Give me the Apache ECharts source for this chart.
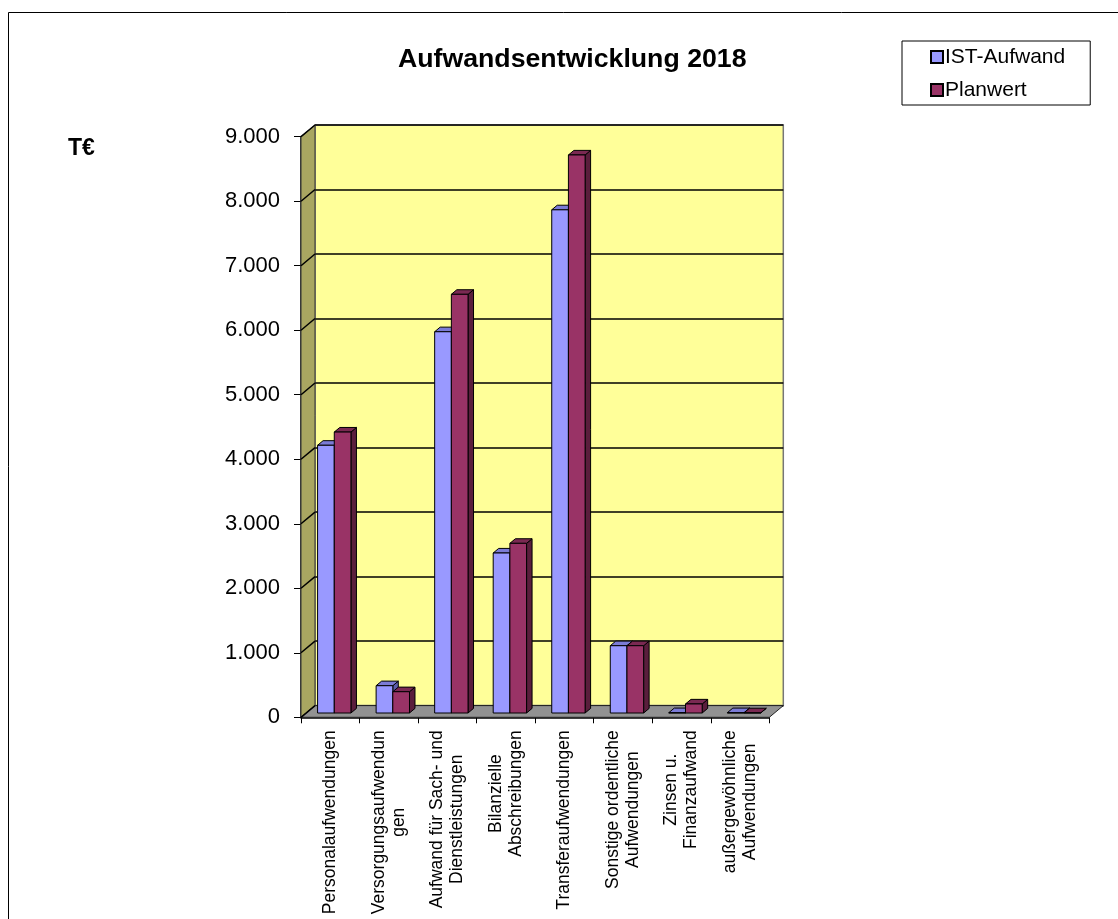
<!DOCTYPE html>
<html>
<head>
<meta charset="utf-8">
<script src="https://cdn.jsdelivr.net/npm/echarts@6/dist/echarts.min.js"></script>
<style>
  html, body { margin: 0; padding: 0; background: #fff; }
  #chart { width: 1118px; height: 919px; }
</style>
</head>
<body>
<div id="chart"></div>
<script>
"use strict";

var categories = [
  'Personalaufwendungen',
  'Versorgungsaufwendun\ngen',
  'Aufwand für Sach- und\nDienstleistungen',
  'Bilanzielle\nAbschreibungen',
  'Transferaufwendungen',
  'Sonstige ordentliche\nAufwendungen',
  'Zinsen u.\nFinanzaufwand',
  'außergewöhnliche\nAufwendungen'
];
var istAufwand = [4150, 423, 5910, 2480, 7800, 1043, 5, 5];
var planwert   = [4355, 330, 6490, 2630, 8650, 1043, 140, 3];
var yTicks = [0, 1000, 2000, 3000, 4000, 5000, 6000, 7000, 8000, 9000];

var FONT = 'Arial, "Liberation Sans", sans-serif';
// Tiefe der Wand (schräg nach hinten oben)
var WALL_DX = 14, WALL_DY = -11.7;
// Ebene der Säulen und deren Tiefe
var PLANE_DX = 4, PLANE_DY = -4.3;
var BAR_DX = 5.5, BAR_DY = -4.6;

function fmt(v) {
  return String(v).replace(/\B(?=(\d{3})+(?!\d))/g, '.');
}

function renderWalls(params, api) {
  var cs = params.coordSys;
  var y = api.coord([0, api.value(1)])[1];
  var x0 = cs.x;
  var children = [];
  if (params.dataIndex === 0) {
    var yb = cs.y + cs.height, yt = cs.y, xr = cs.x + cs.width;
    children.push({
      type: 'polygon',
      shape: { points: [[x0, yt], [x0 + WALL_DX, yt + WALL_DY], [x0 + WALL_DX, yb + WALL_DY], [x0, yb]] },
      style: { fill: '#A9A661', stroke: '#333', lineWidth: 1 }
    });
    children.push({
      type: 'polygon',
      shape: { points: [[x0, yb], [xr, yb], [xr + WALL_DX, yb + WALL_DY], [x0 + WALL_DX, yb + WALL_DY]] },
      style: { fill: '#929292', stroke: '#222', lineWidth: 1 }
    });
  }
  children.push({
    type: 'line',
    shape: { x1: x0, y1: y, x2: x0 + WALL_DX, y2: y + WALL_DY },
    style: { stroke: '#000', lineWidth: 1.5 }
  });
  return { type: 'group', children: children };
}

function makeBar(side, front, topCol, sideCol) {
  return function (params, api) {
    var cat = api.value(0);
    var base = api.coord([cat, 0]);
    var top = api.coord([cat, api.value(1)]);
    var w = api.size([1, 0])[0] * 0.285;
    var x0 = base[0] + PLANE_DX + (side === 0 ? -w : 0);
    var yb = base[1] + PLANE_DY;
    var yt = top[1] + PLANE_DY;
    var st = { stroke: '#000', lineWidth: 1 };
    return {
      type: 'group',
      children: [
        { type: 'polygon', shape: { points: [[x0 + w, yt], [x0 + w + BAR_DX, yt + BAR_DY], [x0 + w + BAR_DX, yb + BAR_DY], [x0 + w, yb]] },
          style: Object.assign({ fill: sideCol }, st) },
        { type: 'polygon', shape: { points: [[x0, yt], [x0 + w, yt], [x0 + w + BAR_DX, yt + BAR_DY], [x0 + BAR_DX, yt + BAR_DY]] },
          style: Object.assign({ fill: topCol }, st) },
        { type: 'rect', shape: { x: x0, y: yt, width: w, height: Math.max(yb - yt, 0) },
          style: Object.assign({ fill: front }, st) }
      ]
    };
  };
}

var chart = echarts.init(document.getElementById('chart'));

chart.setOption({
  backgroundColor: '#fff',
  animation: false,
  title: [
    { text: 'Aufwandsentwicklung 2018', left: 393, top: 41,
      textStyle: { fontFamily: FONT, fontSize: 26.7, fontWeight: 'bold', color: '#000' } },
    { text: 'T€', left: 63, top: 132,
      textStyle: { fontFamily: FONT, fontSize: 23, fontWeight: 'bold', color: '#000' } }
  ],
  legend: {
    orient: 'vertical',
    left: 902, top: 41,
    padding: [4, 25, 3, 28],
    itemGap: 9,
    itemWidth: 12, itemHeight: 12,
    icon: 'rect',
    borderColor: '#000', borderWidth: 1,
    itemStyle: { borderColor: '#000', borderWidth: 2 },
    textStyle: { fontFamily: FONT, fontSize: 21, color: '#000', lineHeight: 24, padding: [0, 0, 0, -3] },
    data: ['IST-Aufwand', 'Planwert']
  },
  graphic: [
    { type: 'rect', shape: { x: 8.5, y: 12.5, width: 1300, height: 1100 },
      style: { fill: null, stroke: '#000', lineWidth: 1 }, silent: true, z: -10 }
  ],
  grid: [
    { left: 301, right: 348.7, top: 136.7, bottom: 201.7 },
    { left: 315, right: 334.7, top: 125, bottom: 213.4, show: true,
      backgroundColor: '#FFFF99', borderColor: '#777', borderWidth: 1.5 }
  ],
  xAxis: [
    { type: 'category', gridIndex: 0, data: categories,
      axisLine: { show: true, lineStyle: { color: '#000', width: 1.5 } },
      axisTick: { show: true, length: 6, lineStyle: { color: '#000' } },
      axisLabel: {
        interval: 0, rotate: 90, margin: 13, color: '#000',
        fontFamily: FONT, fontSize: 17.5,
        formatter: function (v) {
          return v.split('\n').map(function (s) { return '{c|' + s + '}'; }).join('\n');
        },
        rich: { c: { align: 'center', fontFamily: FONT, fontSize: 17.5, lineHeight: 20, color: '#000' } }
      },
      splitLine: { show: false }
    },
    { type: 'category', gridIndex: 1, data: categories, show: false }
  ],
  yAxis: [
    { type: 'value', gridIndex: 0, min: 0, max: 9000, interval: 1000,
      axisLine: { show: true, lineStyle: { color: '#000', width: 1.5 } },
      axisTick: { show: true, length: 7, lineStyle: { color: '#000' } },
      axisLabel: { margin: 21, color: '#000', fontFamily: FONT, fontSize: 22, formatter: fmt },
      splitLine: { show: false }
    },
    { type: 'value', gridIndex: 1, min: 0, max: 9000, interval: 1000,
      axisLine: { show: false }, axisTick: { show: false }, axisLabel: { show: false },
      splitLine: { show: true, lineStyle: { color: '#000', width: 1.5 } }
    }
  ],
  series: [
    { type: 'custom', name: 'walls', xAxisIndex: 0, yAxisIndex: 0, z: 2, silent: true,
      renderItem: renderWalls,
      data: yTicks.map(function (v) { return [0, v]; }) },
    { type: 'custom', name: 'IST-Aufwand', xAxisIndex: 0, yAxisIndex: 0, z: 3,
      itemStyle: { color: '#9999FF' },
      renderItem: makeBar(0, '#9999FF', '#7B7BD6', '#5C5CA8'),
      data: istAufwand.map(function (v, i) { return [i, v]; }) },
    { type: 'custom', name: 'Planwert', xAxisIndex: 0, yAxisIndex: 0, z: 3,
      itemStyle: { color: '#993366' },
      renderItem: makeBar(1, '#993366', '#7A2952', '#5A1E3C'),
      data: planwert.map(function (v, i) { return [i, v]; }) }
  ]
});
</script>
</body>
</html>
